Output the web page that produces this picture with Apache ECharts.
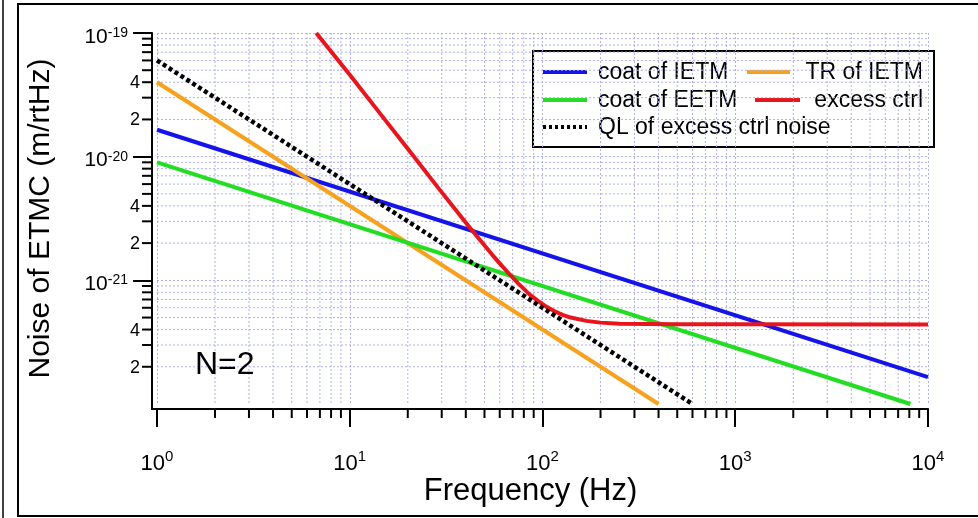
<!DOCTYPE html>
<html>
<head>
<meta charset="utf-8">
<script src="https://cdn.jsdelivr.net/npm/echarts@6/dist/echarts.min.js"></script>
<style>
  html, body { margin: 0; padding: 0; background: #fff; }
  #chart { width: 978px; height: 518px; }
</style>
</head>
<body>
<div id="chart"></div>
<script>
// values: frequency (Hz) and noise (m/rtHz)
const coatIetmFreq = [1, 10000];
const coatIetmNoise = [1.65e-20, 1.65e-22];

const trIetmFreq = [1, 400];
const trIetmNoise = [4.0e-20, 1.0e-22];

const coatEetmFreq = [1, 8100];
const coatEetmNoise = [9.0e-21, 1.0e-22];

const excessFreq = [6.7, 10, 15, 20, 28.5, 41.8, 48, 55, 60, 67.4, 75, 85.6, 95, 105, 115, 127, 140, 169, 200, 251, 500, 1000, 10000];
const excessNoise = [1e-19, 4.6e-20, 2.05e-20, 1.16e-20, 5.7e-21, 2.69e-21, 2.07e-21, 1.6e-21, 1.37e-21,
  1.12e-21, 9.4e-22, 7.7e-22, 6.8e-22, 6.1e-22, 5.65e-22, 5.26e-22, 5.0e-22, 4.7e-22, 4.55e-22, 4.46e-22,
  4.42e-22, 4.41e-22, 4.4e-22];

const qlFreq = [1, 600];
const qlNoise = [6.0e-20, 1.0e-22];

const seriesNames = ['coat of IETM', 'TR of IETM', 'coat of EETM', 'excess ctrl', 'QL of excess ctrl noise'];
const seriesColors = ['#1414ea', '#f7a11e', '#22dd22', '#e8161c', '#000000'];

// axis range and minor ticks
const X_MIN = 1, X_MAX = 10000;
const Y_MIN = 1e-22, Y_MAX = 1e-19;
const xDecades = [1, 10, 100, 1000];
const yDecades = [1e-22, 1e-21, 1e-20];
const minorSteps = [2, 3, 4, 5, 6, 7, 8, 9];
const yMinorLabeled = [2, 4];

const FONT = 'Liberation Sans, Arial, sans-serif';
const GRID_COLOR = '#aeb0f2';
const AXIS_OFFSET = 5;

const pairs = (xs, ys) => xs.map((x, i) => [x, ys[i]]);

const xMinor = [];
xDecades.forEach(d => minorSteps.forEach(m => xMinor.push([d * m, Y_MIN])));
const yMinor = [];
yDecades.forEach(d => minorSteps.forEach(m => yMinor.push([X_MIN, d * m, m])));

function sup(v) {
  return '{b|10}{s|' + Math.round(Math.log10(v)) + '}';
}

const chart = echarts.init(document.getElementById('chart'));

const lineSeries = [
  pairs(coatIetmFreq, coatIetmNoise),
  pairs(trIetmFreq, trIetmNoise),
  pairs(coatEetmFreq, coatEetmNoise),
  pairs(excessFreq, excessNoise),
  pairs(qlFreq, qlNoise)
].map((data, i) => ({
  name: seriesNames[i],
  type: 'line',
  data: data,
  showSymbol: false,
  z: 5,
  lineStyle: {
    color: seriesColors[i],
    width: i === 4 ? 4.5 : 4,
    type: i === 4 ? [4, 3] : 'solid',
    cap: 'butt',
    join: 'round'
  }
}));

// legend drawn inside the framed box
const legendRows = [
  { name: 0, x1: 543, x2: 587, tx: 598, align: 'left', y: 72 },
  { name: 1, x1: 747, x2: 790, tx: 923, align: 'right', y: 72 },
  { name: 2, x1: 543, x2: 587, tx: 598, align: 'left', y: 100 },
  { name: 3, x1: 755, x2: 800, tx: 923, align: 'right', y: 100 },
  { name: 4, x1: 543, x2: 587, tx: 598, align: 'left', y: 127 }
];
const legendItems = [{
  type: 'rect',
  shape: { x: 533, y: 51, width: 401, height: 96 },
  style: { fill: '#fff', stroke: '#000', lineWidth: 2 }
}];
legendRows.forEach(r => {
  legendItems.push({
    type: 'line',
    shape: { x1: r.x1, y1: r.y, x2: r.x2, y2: r.y },
    style: { stroke: seriesColors[r.name], lineWidth: 4, lineDash: r.name === 4 ? [3, 3] : null }
  });
  legendItems.push({
    type: 'text',
    style: {
      text: seriesNames[r.name], x: r.tx, y: r.y + 1,
      font: '23px ' + FONT, fill: '#000',
      align: r.align, verticalAlign: 'middle',
      textAlign: r.align, textVerticalAlign: 'middle'
    }
  });
});

const option = {
  animation: false,
  backgroundColor: '#fff',
  grid: { left: 157, right: 50, top: 33, bottom: 114, containLabel: false, outerBoundsMode: 'none' },
  xAxis: {
    type: 'log',
    logBase: 10,
    min: X_MIN,
    max: X_MAX,
    offset: AXIS_OFFSET,
    name: 'Frequency (Hz)',
    nameLocation: 'middle',
    nameGap: 67,
    nameMoveOverlap: false,
    nameTextStyle: { fontFamily: FONT, fontSize: 31, color: '#000', padding: [0, 24, 0, 0] },
    axisLine: { lineStyle: { color: '#000', width: 2 } },
    axisTick: { length: 18, lineStyle: { color: '#000', width: 2 } },
    splitLine: { show: true, lineStyle: { color: GRID_COLOR, width: 1, type: [2, 2] } },
    axisLabel: {
      margin: 40,
      fontSize: 22,
      fontFamily: FONT,
      color: '#000',
      formatter: sup,
      rich: {
        b: { fontFamily: FONT, fontSize: 22, color: '#000', lineHeight: 22, padding: [8, 0, 0, 0] },
        s: { fontFamily: FONT, fontSize: 15, color: '#000', lineHeight: 15, verticalAlign: 'top' }
      }
    }
  },
  yAxis: {
    type: 'log',
    logBase: 10,
    min: Y_MIN,
    max: Y_MAX,
    offset: AXIS_OFFSET,
    name: 'Noise of ETMC (m/rtHz)',
    nameLocation: 'middle',
    nameRotate: 90,
    nameGap: 96,
    nameMoveOverlap: false,
    nameTextStyle: { fontFamily: FONT, fontSize: 30, color: '#000' },
    axisLine: { lineStyle: { color: '#000', width: 2 } },
    axisTick: { length: 19, lineStyle: { color: '#000', width: 2 } },
    splitLine: { show: true, lineStyle: { color: GRID_COLOR, width: 1, type: [2, 2] } },
    axisLabel: {
      margin: 24,
      fontSize: 21,
      fontFamily: FONT,
      color: '#000',
      formatter: sup,
      rich: {
        b: { fontFamily: FONT, fontSize: 21, color: '#000', lineHeight: 22, padding: [8, 0, 0, 0] },
        s: { fontFamily: FONT, fontSize: 14, color: '#000', lineHeight: 14, padding: [4, 0, 0, 0], verticalAlign: 'top' }
      }
    }
  },
  series: [
    {
      type: 'custom',
      z: 1,
      silent: true,
      data: xMinor,
      renderItem: function (params, api) {
        const v = api.value(0);
        const bot = api.coord([v, Y_MIN]);
        const top = api.coord([v, Y_MAX]);
        return {
          type: 'group',
          children: [
            { type: 'line', shape: { x1: bot[0], y1: top[1], x2: bot[0], y2: bot[1] },
              style: { stroke: GRID_COLOR, lineWidth: 1, lineDash: [2, 2] } },
            { type: 'line', shape: { x1: bot[0], y1: bot[1] + AXIS_OFFSET, x2: bot[0], y2: bot[1] + AXIS_OFFSET + 9 },
              style: { stroke: '#000', lineWidth: 2 } }
          ]
        };
      }
    },
    {
      type: 'custom',
      z: 1,
      silent: true,
      data: yMinor,
      renderItem: function (params, api) {
        const v = api.value(1);
        const m = api.value(2);
        const left = api.coord([X_MIN, v]);
        const right = api.coord([X_MAX, v]);
        const ax = left[0] - AXIS_OFFSET;
        const children = [
          { type: 'line', shape: { x1: left[0], y1: left[1], x2: right[0], y2: left[1] },
            style: { stroke: GRID_COLOR, lineWidth: 1, lineDash: [2, 2] } },
          { type: 'line', shape: { x1: ax - 10, y1: left[1], x2: ax, y2: left[1] },
            style: { stroke: '#000', lineWidth: 2 } }
        ];
        if (yMinorLabeled.indexOf(m) >= 0) {
          children.push({
            type: 'text',
            style: {
              text: String(m), x: ax - 12, y: left[1] + 1,
              font: '18px ' + FONT, fontSize: 18, fontFamily: FONT, fill: '#000',
              align: 'right', verticalAlign: 'middle',
              textAlign: 'right', textVerticalAlign: 'middle'
            }
          });
        }
        return { type: 'group', children: children };
      }
    }
  ].concat(lineSeries),
  graphic: [
    { type: 'line', z: 100, shape: { x1: 3, y1: 0, x2: 3, y2: 518 }, style: { stroke: '#000', lineWidth: 1.5 } },
    { type: 'rect', z: 100, shape: { x: 18, y: 4, width: 980, height: 512 },
      style: { fill: null, stroke: '#000', lineWidth: 2 } },
    // axis corner where the offset x and y axis lines meet
    { type: 'polyline', z: 100, shape: { points: [[152, 403], [152, 409], [158, 409]] },
      style: { fill: null, stroke: '#000', lineWidth: 2 } },
    { type: 'text', z: 100,
      style: { text: 'N=2', x: 195, y: 365, font: '32px ' + FONT, fill: '#000',
        verticalAlign: 'middle', textVerticalAlign: 'middle' } },
    { type: 'group', z: 100, children: legendItems }
  ]
};

chart.setOption(option);
</script>
</body>
</html>
